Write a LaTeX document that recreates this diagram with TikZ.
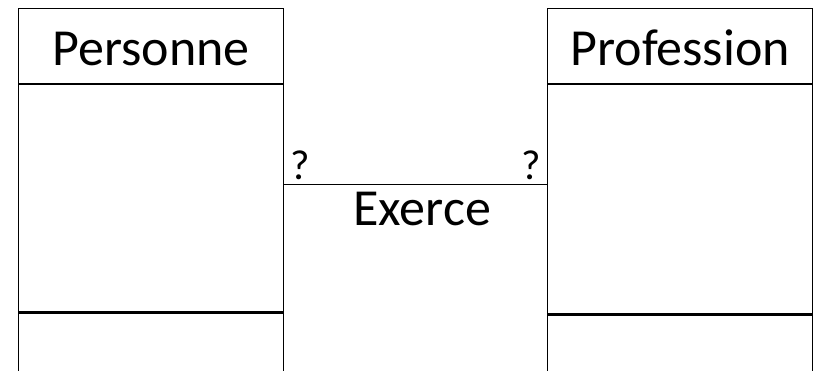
\documentclass[tikz,border=0pt]{standalone}
\usepackage{fontspec}
\setmainfont{Carlito}
\usetikzlibrary{positioning}

\begin{document}
\begin{tikzpicture}[x=1pt,y=-1pt,
    every node/.style={inner sep=0pt},
    compart/.style={draw,line width=1.2pt,minimum width=265pt,anchor=north west},
    big/.style={font=\fontsize{52}{62}\selectfont},
    small/.style={font=\fontsize{42}{50}\selectfont},
    nom/.style={compart,big,minimum height=75pt,text height=45pt,text depth=6pt}]
\useasboundingbox (0,0) rectangle (815,371);
\clip (0,0) rectangle (815,371);
% Personne
\node[nom] (nomP) at (18,8) {Personne};
\node[compart,minimum height=227pt] (attrP) at (nomP.south west) {};
\node[compart,minimum height=100pt] (methP) at (attrP.south west) {};
% Profession
\node[nom] (nomF) at (547,8) {Profession};
\node[compart,minimum height=229pt] (attrF) at (nomF.south west) {};
\node[compart,minimum height=100pt] (methF) at (attrF.south west) {};
% association
\coordinate (bP) at ([yshift=-100pt]attrP.north east);
\coordinate (bF) at ([yshift=-100pt]attrF.north west);
\draw[line width=1.2pt] (bP) -- (bF);
\node[small,above right=4pt and 6pt of bP] (cardP) {?};
\node[small,above left=4pt and 6pt of bF] (cardF) {?};
\node[big,below=8pt of bP,xshift=138pt] (assoc) {Exerce};
\end{tikzpicture}
\end{document}
